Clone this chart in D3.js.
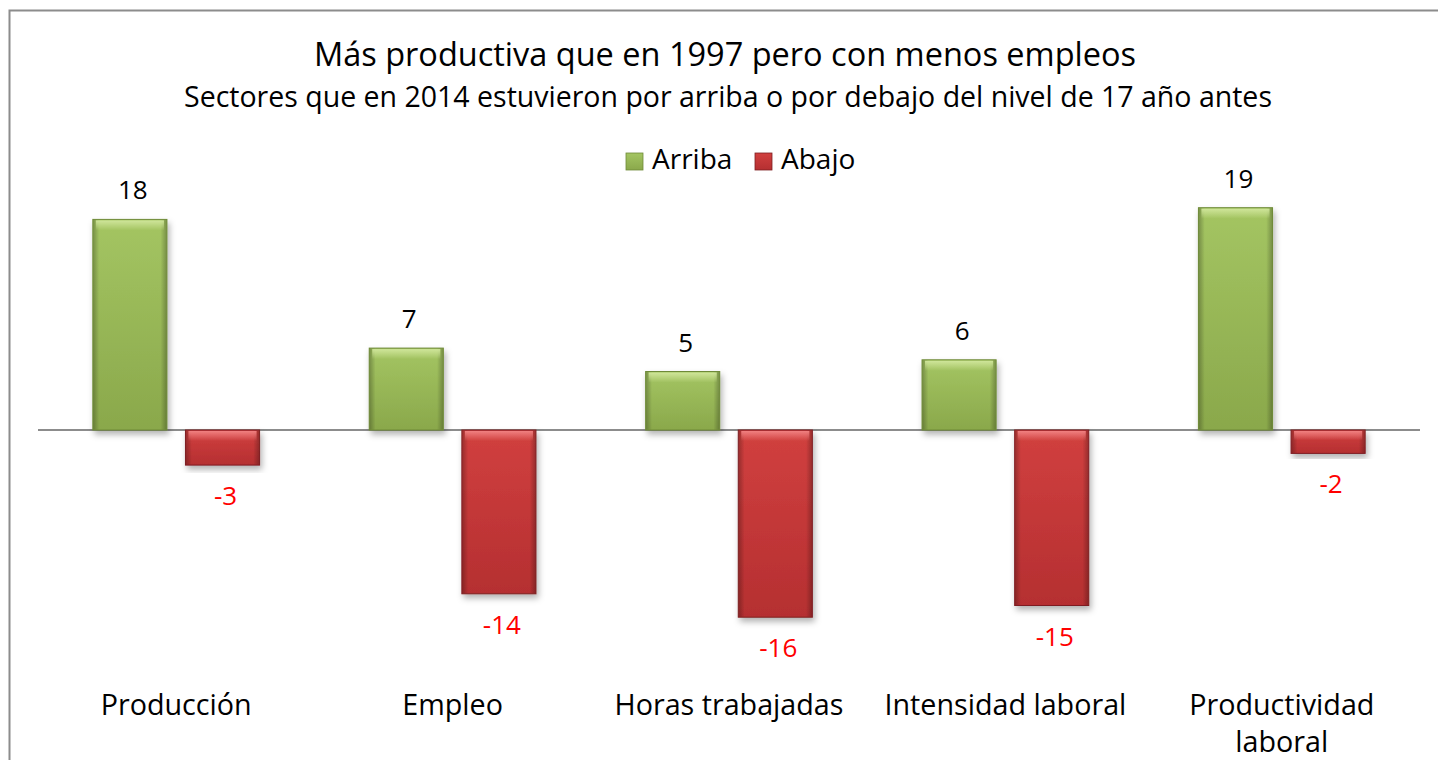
<!DOCTYPE html>
<html>
<head>
<meta charset="utf-8">
<script src="https://cdn.jsdelivr.net/npm/d3@7"></script>
<style>
  html, body { margin: 0; padding: 0; background: #fff; }
  svg { display: block; font-family: "Open Sans", "Noto Sans", sans-serif; }
</style>
</head>
<body>
<svg id="chart" width="1438" height="760"></svg>
<script>
const categories = ["Producción", "Empleo", "Horas trabajadas", "Intensidad laboral", "Productividad laboral"];
const seriesNames = ["Arriba", "Abajo"];
const arriba = [18, 7, 5, 6, 19];
const abajo = [-3, -14, -16, -15, -2];
const titleText = "Más productiva que en 1997 pero con menos empleos";
const subtitleText = "Sectores que en 2014 estuvieron por arriba o por debajo del nivel de 17 año antes";

const W = 1438, H = 760;
const svg = d3.select("#chart");

const defs = svg.append("defs");
const sh = defs.append("filter").attr("id", "shadow").attr("x", "-20%").attr("y", "-20%").attr("width", "140%").attr("height", "140%");
sh.append("feDropShadow").attr("dx", 2).attr("dy", 4).attr("stdDeviation", 3).attr("flood-color", "#000").attr("flood-opacity", 0.3);

const palette = {
  Arriba: { light: "#cfe59a", main: "#a4c562", dark: "#8aa84b", edge: "#6e8a37" },
  Abajo: { light: "#f08080", main: "#d1403f", dark: "#b52f31", edge: "#7e1f22" }
};
Object.entries(palette).forEach(([k, c]) => {
  const g = defs.append("linearGradient").attr("id", "gv-" + k).attr("x1", 0).attr("y1", 0).attr("x2", 0).attr("y2", 1);
  g.append("stop").attr("offset", "0%").attr("stop-color", c.main);
  g.append("stop").attr("offset", "100%").attr("stop-color", c.dark);
  const h = defs.append("linearGradient").attr("id", "gh-" + k).attr("x1", 0).attr("y1", 0).attr("x2", 1).attr("y2", 0);
  h.append("stop").attr("offset", "0%").attr("stop-color", "#000").attr("stop-opacity", 0.25);
  h.append("stop").attr("offset", "8%").attr("stop-color", "#000").attr("stop-opacity", 0.0);
  h.append("stop").attr("offset", "92%").attr("stop-color", "#000").attr("stop-opacity", 0.0);
  h.append("stop").attr("offset", "100%").attr("stop-color", "#000").attr("stop-opacity", 0.25);
  const t = defs.append("linearGradient").attr("id", "gt-" + k).attr("x1", 0).attr("y1", 0).attr("x2", 0).attr("y2", 1);
  t.append("stop").attr("offset", "0%").attr("stop-color", c.light).attr("stop-opacity", 1);
  t.append("stop").attr("offset", "100%").attr("stop-color", c.light).attr("stop-opacity", 0);
});

// frame
svg.append("path").attr("d", `M9.5,${H} V10.5 H${W}`).attr("fill", "none").attr("stroke", "#8c8c8c").attr("stroke-width", 2);

// titles
svg.append("text").attr("x", 725).attr("y", 66).attr("text-anchor", "middle")
  .attr("font-size", 32.5).attr("fill", "#000").text(titleText);
svg.append("text").attr("x", 728).attr("y", 107).attr("text-anchor", "middle")
  .attr("font-size", 28.5).attr("fill", "#000").text(subtitleText);

// scales
const x0 = d3.scaleBand().domain(categories).range([38, 1420]).padding(0);
const gapWidth = 1.48, overlap = -0.25;
const bw = x0.bandwidth() / (gapWidth + 2 - overlap);
const groupW = 2 * bw - overlap * bw;
const x1 = d3.scaleBand().domain(seriesNames)
  .range([(x0.bandwidth() - groupW) / 2, (x0.bandwidth() + groupW) / 2])
  .paddingInner(-overlap * bw / (bw - overlap * bw)).paddingOuter(0);
const y = d3.scaleLinear().domain([-20, 20]).range([664, 196]);

// zero axis
svg.append("line").attr("x1", 38).attr("x2", 1420).attr("y1", y(0)).attr("y2", y(0))
  .attr("stroke", "#8c8c8c").attr("stroke-width", 2);

const data = [];
categories.forEach((c, i) => {
  data.push({ cat: c, s: "Arriba", v: arriba[i] });
  data.push({ cat: c, s: "Abajo", v: abajo[i] });
});

const bars = svg.append("g").selectAll("g").data(data).join("g")
  .attr("transform", d => `translate(${x0(d.cat) + x1(d.s)},0)`);
bars.each(function (d) {
  const g = d3.select(this);
  const top = y(Math.max(0, d.v)), h = Math.abs(y(d.v) - y(0));
  const w = x1.bandwidth();
  const c = palette[d.s];
  g.append("rect").attr("x", 0).attr("y", top).attr("width", w).attr("height", h)
    .attr("fill", `url(#gv-${d.s})`).attr("stroke", c.edge).attr("stroke-width", 1).attr("filter", "url(#shadow)");
  g.append("rect").attr("x", 0.5).attr("y", top + 0.5).attr("width", w - 1).attr("height", h - 1)
    .attr("fill", `url(#gh-${d.s})`);
  g.append("rect").attr("x", 3).attr("y", top + 1).attr("width", w - 6).attr("height", Math.min(10, h * 0.4))
    .attr("fill", `url(#gt-${d.s})`);
  g.append("text").attr("x", w / 2 + 3)
    .attr("y", d.v >= 0 ? top - 20 : top + h + 40)
    .attr("text-anchor", "middle").attr("font-size", 26)
    .attr("fill", d.v >= 0 ? "#000" : "#ff0000").text(d.v);
});

// category labels
const catG = svg.append("g");
categories.forEach(c => {
  const words = c === "Productividad laboral" ? ["Productividad", "laboral"] : [c];
  const t = catG.append("text").attr("text-anchor", "middle").attr("font-size", 28.7).attr("fill", "#000");
  words.forEach((w, i) => {
    t.append("tspan").attr("x", x0(c) + x0.bandwidth() / 2).attr("y", 715 + i * 37).text(w);
  });
});

// legend
const lg = svg.append("g");
const leg = [{ s: "Arriba", x: 626, tx: 652 }, { s: "Abajo", x: 755, tx: 781 }];
leg.forEach(l => {
  const c = palette[l.s];
  lg.append("rect").attr("x", l.x).attr("y", 153).attr("width", 17).attr("height", 17)
    .attr("fill", `url(#gv-${l.s})`).attr("stroke", c.edge).attr("stroke-width", 0.8);
  lg.append("text").attr("x", l.tx).attr("y", 169).attr("font-size", 28).attr("fill", "#000").text(l.s);
});
</script>
</body>
</html>
